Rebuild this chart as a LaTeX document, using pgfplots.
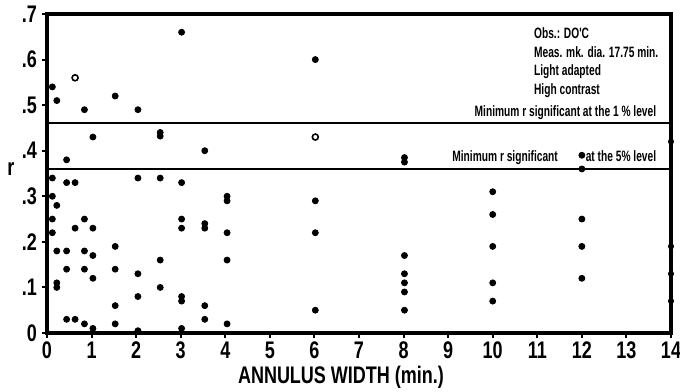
\documentclass[border=0pt]{standalone}
\usepackage{fontspec}
\setmainfont{Liberation Sans}[FakeStretch=0.75,UprightFont={* Bold}]
\newfontfamily\anno{Liberation Sans}[FakeStretch=0.68,UprightFont={* Bold}]
\usepackage{pgfplots}
\pgfplotsset{compat=1.18}
\begin{document}
\begin{tikzpicture}
\begin{axis}[
  scale only axis,
  width=312pt, height=159.5pt,
  xmin=0, xmax=14, ymin=0, ymax=0.7,
  axis line style={line width=1.6pt},
  xtick={0,1,...,14},
  ytick={0,0.1,0.2,0.3,0.4,0.5,0.6,0.7},
  yticklabels={0,.1,.2,.3,.4,.5,.6,.7},
  tick align=outside,
  major tick length=2.5pt,
  tick style={line width=1pt, black},
  /pgf/number format/assume math mode=true,
  tick label style={font=\fontsize{12}{14}\selectfont},
  xticklabel style={yshift=1.5pt},
  yticklabel style={xshift=1pt},
  xlabel={ANNULUS WIDTH (min.)},
  xlabel style={font=\fontsize{12}{14}\selectfont, yshift=3.5pt, xshift=-9pt},
  clip=false,
  xtick pos=bottom, ytick pos=left,
]
\addplot[black, line width=1.6pt] coordinates {(0,0.7) (14,0.7) (14,0)};
\addplot[black, line width=1.1pt] coordinates {(0,0.46) (14,0.46)};
\addplot[black, line width=1.1pt] coordinates {(0,0.36) (14,0.36)};
\addplot[only marks, mark=*, mark size=1.5pt, black] coordinates {
(0.12,0.54) (0.12,0.34) (0.12,0.30) (0.12,0.25) (0.12,0.22)
(0.22,0.51) (0.22,0.28) (0.22,0.18) (0.22,0.11) (0.22,0.10)
(0.44,0.38) (0.44,0.33) (0.44,0.18) (0.44,0.14) (0.44,0.03)
(0.63,0.33) (0.63,0.23) (0.63,0.03)
(0.84,0.49) (0.84,0.25) (0.84,0.18) (0.84,0.14) (0.84,0.02)
(1.03,0.43) (1.03,0.23) (1.03,0.17) (1.03,0.12) (1.03,0.01)
(1.53,0.52) (1.53,0.19) (1.53,0.14) (1.53,0.06) (1.53,0.02)
(2.04,0.49) (2.04,0.34) (2.04,0.13) (2.04,0.08) (2.04,0.005)
(2.54,0.44) (2.54,0.432) (2.54,0.34) (2.54,0.16) (2.54,0.10)
(3.02,0.66) (3.02,0.33) (3.02,0.25) (3.02,0.23) (3.02,0.08) (3.02,0.07) (3.02,0.01)
(3.54,0.40) (3.54,0.24) (3.54,0.23) (3.54,0.06) (3.54,0.03)
(4.04,0.30) (4.04,0.29) (4.04,0.22) (4.04,0.16) (4.04,0.02)
(6.02,0.60) (6.02,0.29) (6.02,0.22) (6.02,0.05)
(8.02,0.385) (8.02,0.375) (8.02,0.17) (8.02,0.13) (8.02,0.11) (8.02,0.09) (8.02,0.05)
(10,0.31) (10,0.26) (10,0.19) (10,0.11) (10,0.07)
(12,0.39) (12,0.36) (12,0.25) (12,0.19) (12,0.12)
};
\addplot[only marks, mark=*, mark size=1.3pt, black] coordinates {
(14,0.42) (14,0.19) (14,0.13) (14,0.07)
};
\addplot[only marks, mark=*, mark size=1.5pt, black, fill=white, line width=0.8pt] coordinates {
(0.63,0.56) (6.02,0.43)
};
\node[anchor=south east, inner sep=1pt, font=\anno\fontsize{7.5}{9}\selectfont] at (axis cs:13.72,0.463) {Minimum r significant at the 1 \% level};
\node[anchor=south east, inner sep=1pt, font=\anno\fontsize{7.5}{9}\selectfont] at (axis cs:13.72,0.363) {Minimum r significant\hspace{14pt}at the 5\% level};
\node[anchor=north west, inner sep=0pt, align=left, font=\anno\fontsize{7.5}{9.2}\selectfont] at (axis cs:10.92,0.67) {Obs.: DO'C\\Meas. mk. dia. 17.75 min.\\Light adapted\\High contrast};
\node[anchor=center, font=\fontsize{12}{14}\selectfont] at ([xshift=-18pt]rel axis cs:0,0.515) {r};
\coordinate (SW) at (rel axis cs:0,0);
\coordinate (NE) at (rel axis cs:1,1);
\end{axis}
\pgfresetboundingbox
\path ([shift={(-23.5pt,-29.5pt)}]SW) rectangle ([shift={(4.5pt,7pt)}]NE);
\end{tikzpicture}
\end{document}
